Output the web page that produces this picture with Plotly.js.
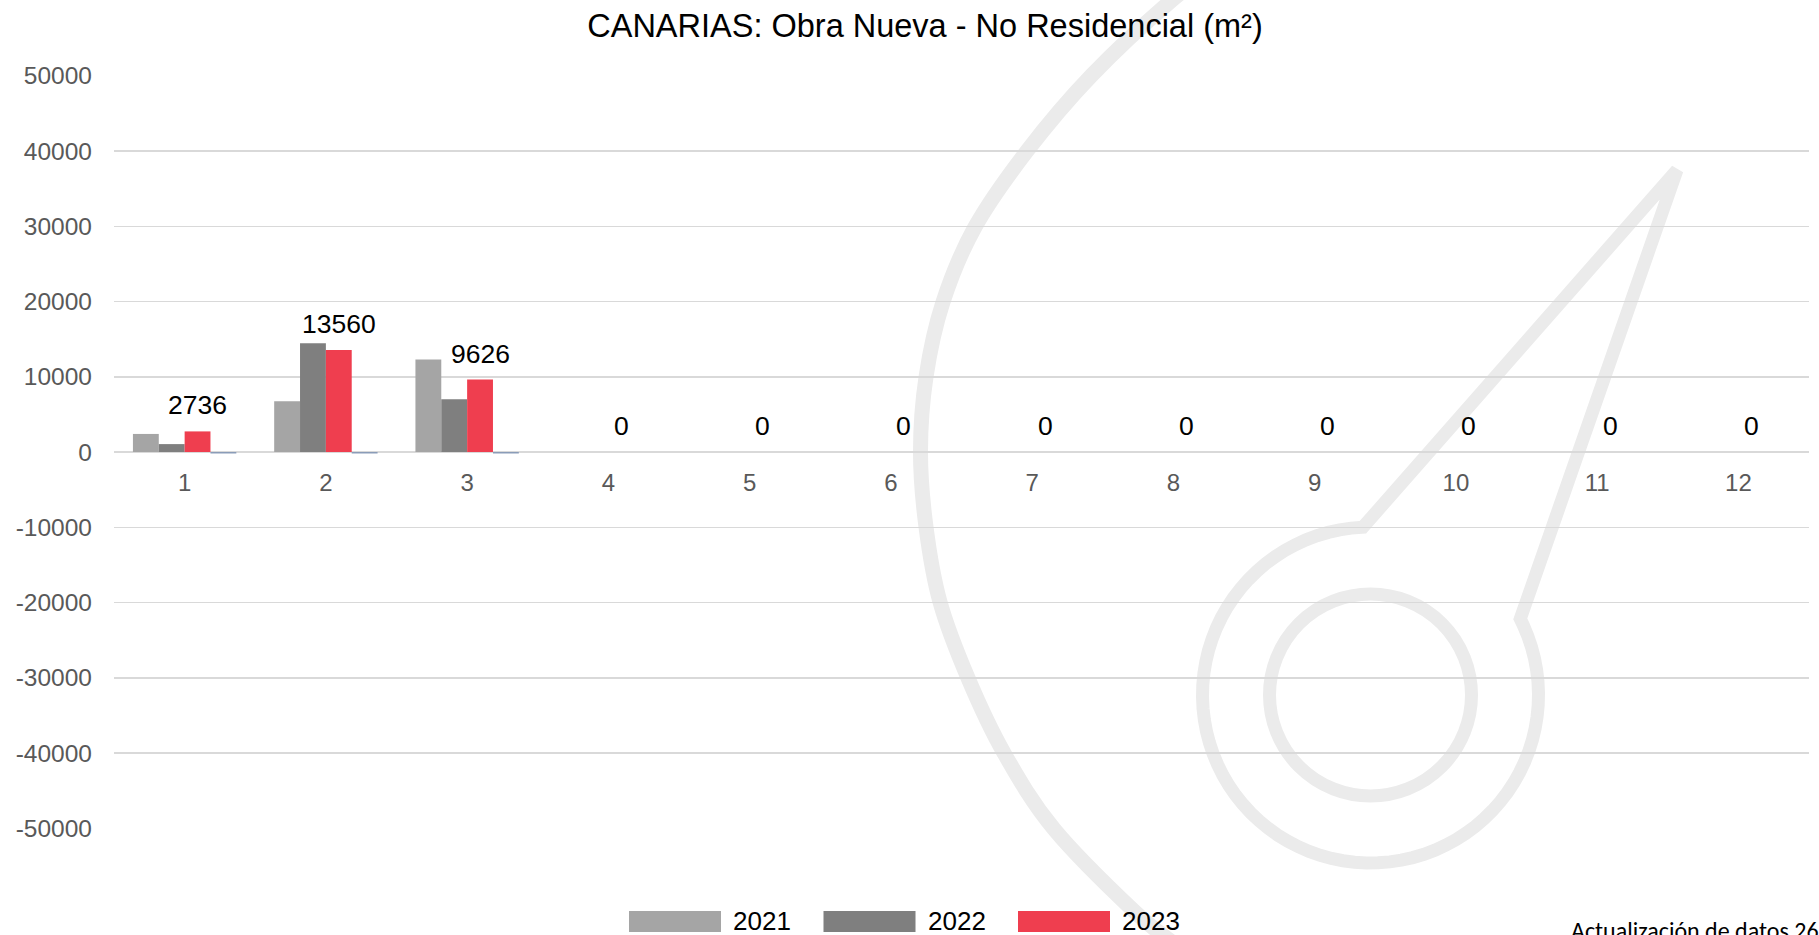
<!DOCTYPE html>
<html>
<head>
<meta charset="utf-8">
<script src="https://cdn.plot.ly/plotly-3.0.1.min.js"></script>
<style>html,body{margin:0;padding:0;background:#fff;overflow:hidden}</style>
</head>
<body>
<div id="chart" style="width:1819px;height:935px"></div>
<script>
// ---------------- data ----------------
const months = [1, 2, 3, 4, 5, 6, 7, 8, 9, 10, 11, 12];
const monthLabels = ['1', '2', '3', '4', '5', '6', '7', '8', '9', '10', '11', '12'];
const seriesNames = ['2021', '2022', '2023'];
const v2021 = [2400, 6750, 12300, null, null, null, null, null, null, null, null, null];
const v2022 = [1050, 14450, 7000, null, null, null, null, null, null, null, null, null];
const v2023 = [2736, 13560, 9626, 0, 0, 0, 0, 0, 0, 0, 0, 0];
const vOther = [-200, -200, -200, null, null, null, null, null, null, null, null, null];
const yTickVals = [50000, 40000, 30000, 20000, 10000, 0, -10000, -20000, -30000, -40000, -50000];
const yTickText = ['50000', '40000', '30000', '20000', '10000', '0', '-10000', '-20000', '-30000', '-40000', '-50000'];
const titleText = 'CANARIAS: Obra Nueva - No Residencial (m²)';
const footerText = 'Actualización de datos 26';

// ---------------- style ----------------
const seriesColors = ['#A5A5A5', '#7F7F7F', '#EF3E4F'];
const otherColor = '#8A9CB8';
const W = 1819, H = 935;
const M = {l: 114, r: 10, t: 75, b: 106};
const PW = W - M.l - M.r, PH = H - M.t - M.b;
const px = x => (x - M.l) / PW;
const py = y => (H - M.b - y) / PH;
const BARGAP = 0.268;
const labelOffset = (1 - BARGAP) / 8; // centre of 3rd of 4 bars in a group

const SANS = '"Liberation Sans", Arial, sans-serif';

// ---------------- traces ----------------
const allVals = [v2021, v2022, v2023];
const traces = allVals.map((vals, i) => ({
  type: 'bar', x: months, y: vals, name: seriesNames[i],
  marker: {color: seriesColors[i]}, showlegend: false, hoverinfo: 'skip'
}));
traces.push({type: 'bar', x: months, y: vOther, name: '', marker: {color: otherColor},
  showlegend: false, hoverinfo: 'skip'});

// ---------------- annotations ----------------
const annotations = [];
v2023.forEach((v, i) => {
  annotations.push({
    xref: 'x', yref: 'y', x: months[i] + labelOffset, y: v, text: String(v),
    showarrow: false, xanchor: 'center', yanchor: 'bottom', yshift: 9,
    font: {family: SANS, size: 26.5, color: '#000000'}
  });
});
// legend (custom, wide swatches)
const shapes = [];
seriesNames.forEach((name, i) => {
  const x0 = 629 + i * 194.5;
  shapes.push({type: 'rect', xref: 'paper', yref: 'paper', layer: 'above',
    x0: px(x0), x1: px(x0 + 92), y0: py(932), y1: py(911),
    fillcolor: seriesColors[i], line: {width: 0}});
  annotations.push({xref: 'paper', yref: 'paper', x: px(x0 + 133), y: py(921),
    xanchor: 'center', yanchor: 'middle', showarrow: false, text: name,
    font: {family: SANS, size: 26, color: '#000000'}});
});
annotations.push({xref: 'paper', yref: 'paper', x: px(1569), y: py(914),
  xanchor: 'left', yanchor: 'top', showarrow: false, text: footerText,
  font: {family: 'Carlito, Calibri, Lato, sans-serif', size: 24, color: '#000000'}});

// ---------------- watermark ----------------
const P = p => px(p[0]).toFixed(5) + ',' + py(p[1]).toFixed(5);
function smoothPath(pts) {
  let d = 'M' + P(pts[0]);
  for (let i = 0; i < pts.length - 1; i++) {
    const p0 = pts[i - 1] || pts[i], p1 = pts[i], p2 = pts[i + 1], p3 = pts[i + 2] || pts[i + 1];
    const c1 = [p1[0] + (p2[0] - p0[0]) / 6, p1[1] + (p2[1] - p0[1]) / 6];
    const c2 = [p2[0] - (p3[0] - p1[0]) / 6, p2[1] - (p3[1] - p1[1]) / 6];
    d += ' C' + P(c1) + ' ' + P(c2) + ' ' + P(p2);
  }
  return d;
}
const wmColor = '#EBEBEB';
const bigArc = [[1222, -36], [1172, 0], [1091, 76], [1027, 151], [975, 227], [943, 302], [926, 377],
  [920.5, 452], [926, 527], [940, 602], [968, 678], [1004, 753], [1054, 829], [1135, 912], [1180, 948]];
shapes.push({type: 'path', xref: 'paper', yref: 'paper', layer: 'below',
  path: smoothPath(bigArc), line: {color: wmColor, width: 15}});

const cx = 1370.5, cy = 695, R = 168, tip = [1677, 170];
const a1 = Math.atan2(528 - cy, 1363 - cx) * 180 / Math.PI;
const a2 = Math.atan2(620 - cy, 1518 - cx) * 180 / Math.PI - 360;
let needle = 'M' + P(tip);
for (let a = a1; a > a2; a -= 4) {
  const r = a * Math.PI / 180;
  needle += ' L' + P([cx + R * Math.cos(r), cy + R * Math.sin(r)]);
}
const ar = a2 * Math.PI / 180;
needle += ' L' + P([cx + R * Math.cos(ar), cy + R * Math.sin(ar)]) + ' Z';
shapes.push({type: 'path', xref: 'paper', yref: 'paper', layer: 'below',
  path: needle, line: {color: wmColor, width: 13}});
const r2 = 101;
shapes.push({type: 'circle', xref: 'paper', yref: 'paper', layer: 'below',
  x0: px(cx - r2), x1: px(cx + r2), y0: py(cy + r2), y1: py(cy - r2),
  line: {color: wmColor, width: 13}});

// ---------------- layout ----------------
const layout = {
  width: W, height: H, margin: M,
  paper_bgcolor: '#ffffff', plot_bgcolor: 'rgba(0,0,0,0)',
  barmode: 'group', bargap: BARGAP, bargroupgap: 0,
  showlegend: false, hovermode: false,
  title: {text: titleText, xref: 'container', yref: 'container',
    x: 925 / W, y: 1 - 25.5 / H, xanchor: 'center', yanchor: 'middle',
    font: {family: SANS, size: 32.5, color: '#000000'}},
  xaxis: {type: 'linear', range: [0.5, 12.5], tickvals: months, ticktext: monthLabels,
    anchor: 'free', position: 0.5, showgrid: false, zeroline: false, showline: false,
    ticks: '', ticklabelstandoff: 14, fixedrange: true,
    tickfont: {family: SANS, size: 24, color: '#595959'}},
  yaxis: {range: [-50100, 50100], tickvals: yTickVals, ticktext: yTickText,
    showgrid: true, gridcolor: '#D9D9D9', gridwidth: 1.5,
    zeroline: true, zerolinecolor: '#D9D9D9', zerolinewidth: 1.5, showline: false,
    ticks: '', ticklabelstandoff: 21, fixedrange: true,
    tickfont: {family: SANS, size: 24.5, color: '#595959'}},
  shapes: shapes,
  annotations: annotations
};

Plotly.newPlot('chart', traces, layout, {displayModeBar: false, staticPlot: true});
</script>
</body>
</html>
